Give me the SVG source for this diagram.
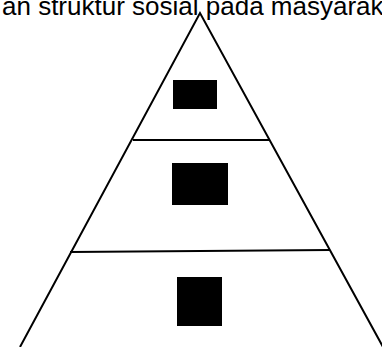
<svg xmlns="http://www.w3.org/2000/svg" width="382" height="347" viewBox="0 0 382 347">
<style>
.ln{stroke:#000;stroke-width:2;fill:none}
.bx{fill:#000}
.t{font-family:"Liberation Sans",Arial,sans-serif;font-size:26px;fill:#000}
</style>
<rect width="382" height="347" fill="#fff"/>
<text class="t" x="2" y="14.5">an struktur sosial pada masyarakat</text>
<g id="pyramid">
<polyline class="ln" points="20,347 200,13 383,347"/>
</g>
<g id="connectors">
<line class="ln" x1="133" y1="140" x2="270" y2="140"/>
<line class="ln" x1="70" y1="252" x2="330" y2="250"/>
</g>
<g id="level1"><rect class="bx" x="173" y="80" width="44" height="29"/></g>
<g id="level2"><rect class="bx" x="172" y="163" width="56" height="42"/></g>
<g id="level3"><rect class="bx" x="177" y="277" width="45" height="49"/></g>
</svg>
